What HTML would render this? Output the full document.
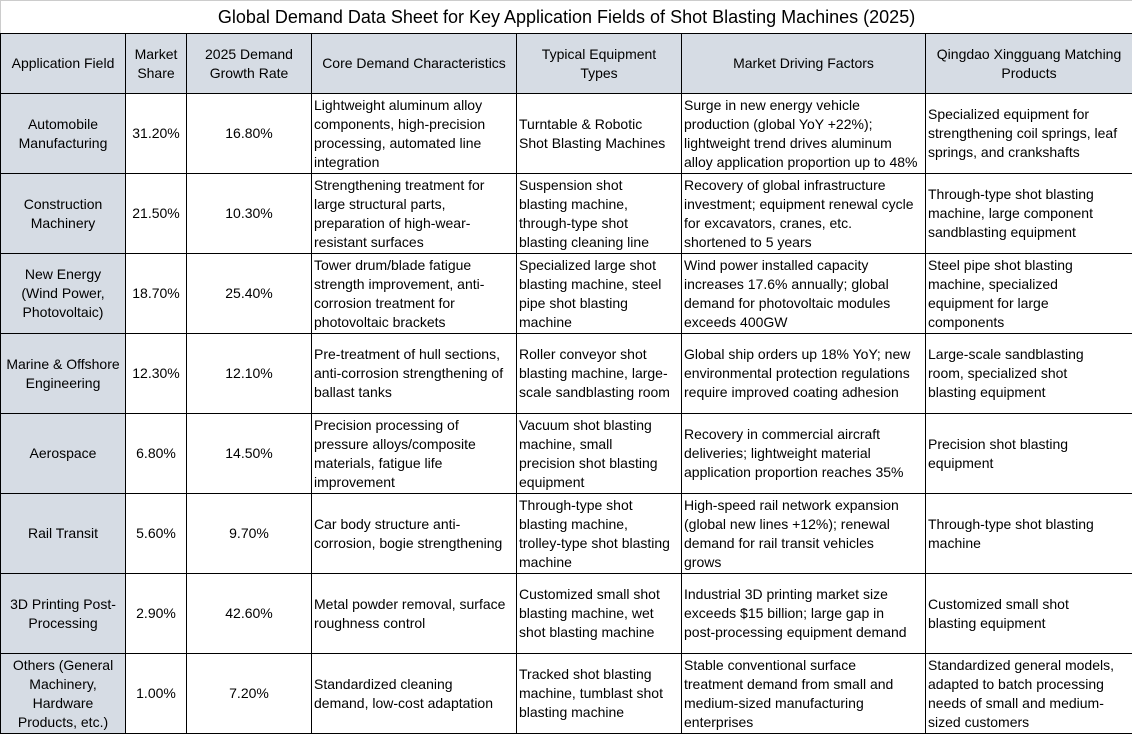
<!DOCTYPE html>
<html><head><meta charset="utf-8"><style>
body{margin:0;background:#fff;}
table{border-collapse:collapse;table-layout:fixed;width:1132px;font-family:"Liberation Sans",Arial,sans-serif;font-size:14px;color:#000;}
td{border:1px solid #000;padding:0 2px;line-height:19px;vertical-align:middle;overflow:hidden;white-space:nowrap;}
.t td{border:1px solid #ccc;border-bottom:1px solid #000;height:32px;text-align:center;font-size:18px;padding:0;}
.h td{background:#d6dce4;text-align:center;height:59px;}
.r td{height:79px;}
.c{text-align:center;}
.f{background:#d6dce4;text-align:center;}
</style></head><body>
<table>
<colgroup><col style="width:125px"><col style="width:61px"><col style="width:125px"><col style="width:205px"><col style="width:165px"><col style="width:244px"><col style="width:207px"></colgroup>
<tr class="t"><td colspan="7">Global Demand Data Sheet for Key Application Fields of Shot Blasting Machines (2025)</td></tr>
<tr class="h"><td>Application Field</td><td>Market<br>Share</td><td>2025 Demand<br>Growth Rate</td><td>Core Demand Characteristics</td><td>Typical Equipment<br>Types</td><td>Market Driving Factors</td><td>Qingdao Xingguang Matching<br>Products</td></tr>
<tr class="r"><td class="f">Automobile<br>Manufacturing</td><td class="c">31.20%</td><td class="c">16.80%</td><td>Lightweight aluminum alloy<br>components, high-precision<br>processing, automated line<br>integration</td><td>Turntable &amp; Robotic<br>Shot Blasting Machines</td><td>Surge in new energy vehicle<br>production (global YoY +22%);<br>lightweight trend drives aluminum<br>alloy application proportion up to 48%</td><td>Specialized equipment for<br>strengthening coil springs, leaf<br>springs, and crankshafts</td></tr>
<tr class="r"><td class="f">Construction<br>Machinery</td><td class="c">21.50%</td><td class="c">10.30%</td><td>Strengthening treatment for<br>large structural parts,<br>preparation of high-wear-<br>resistant surfaces</td><td>Suspension shot<br>blasting machine,<br>through-type shot<br>blasting cleaning line</td><td>Recovery of global infrastructure<br>investment; equipment renewal cycle<br>for excavators, cranes, etc.<br>shortened to 5 years</td><td>Through-type shot blasting<br>machine, large component<br>sandblasting equipment</td></tr>
<tr class="r"><td class="f">New Energy<br>(Wind Power,<br>Photovoltaic)</td><td class="c">18.70%</td><td class="c">25.40%</td><td>Tower drum/blade fatigue<br>strength improvement, anti-<br>corrosion treatment for<br>photovoltaic brackets</td><td>Specialized large shot<br>blasting machine, steel<br>pipe shot blasting<br>machine</td><td>Wind power installed capacity<br>increases 17.6% annually; global<br>demand for photovoltaic modules<br>exceeds 400GW</td><td>Steel pipe shot blasting<br>machine, specialized<br>equipment for large<br>components</td></tr>
<tr class="r"><td class="f">Marine &amp; Offshore<br>Engineering</td><td class="c">12.30%</td><td class="c">12.10%</td><td>Pre-treatment of hull sections,<br>anti-corrosion strengthening of<br>ballast tanks</td><td>Roller conveyor shot<br>blasting machine, large-<br>scale sandblasting room</td><td>Global ship orders up 18% YoY; new<br>environmental protection regulations<br>require improved coating adhesion</td><td>Large-scale sandblasting<br>room, specialized shot<br>blasting equipment</td></tr>
<tr class="r"><td class="f">Aerospace</td><td class="c">6.80%</td><td class="c">14.50%</td><td>Precision processing of<br>pressure alloys/composite<br>materials, fatigue life<br>improvement</td><td>Vacuum shot blasting<br>machine, small<br>precision shot blasting<br>equipment</td><td>Recovery in commercial aircraft<br>deliveries; lightweight material<br>application proportion reaches 35%</td><td>Precision shot blasting<br>equipment</td></tr>
<tr class="r"><td class="f">Rail Transit</td><td class="c">5.60%</td><td class="c">9.70%</td><td>Car body structure anti-<br>corrosion, bogie strengthening</td><td>Through-type shot<br>blasting machine,<br>trolley-type shot blasting<br>machine</td><td>High-speed rail network expansion<br>(global new lines +12%); renewal<br>demand for rail transit vehicles<br>grows</td><td>Through-type shot blasting<br>machine</td></tr>
<tr class="r"><td class="f">3D Printing Post-<br>Processing</td><td class="c">2.90%</td><td class="c">42.60%</td><td>Metal powder removal, surface<br>roughness control</td><td>Customized small shot<br>blasting machine, wet<br>shot blasting machine</td><td>Industrial 3D printing market size<br>exceeds $15 billion; large gap in<br>post-processing equipment demand</td><td>Customized small shot<br>blasting equipment</td></tr>
<tr class="r"><td class="f">Others (General<br>Machinery,<br>Hardware<br>Products, etc.)</td><td class="c">1.00%</td><td class="c">7.20%</td><td>Standardized cleaning<br>demand, low-cost adaptation</td><td>Tracked shot blasting<br>machine, tumblast shot<br>blasting machine</td><td>Stable conventional surface<br>treatment demand from small and<br>medium-sized manufacturing<br>enterprises</td><td>Standardized general models,<br>adapted to batch processing<br>needs of small and medium-<br>sized customers</td></tr>
</table>
</body></html>
